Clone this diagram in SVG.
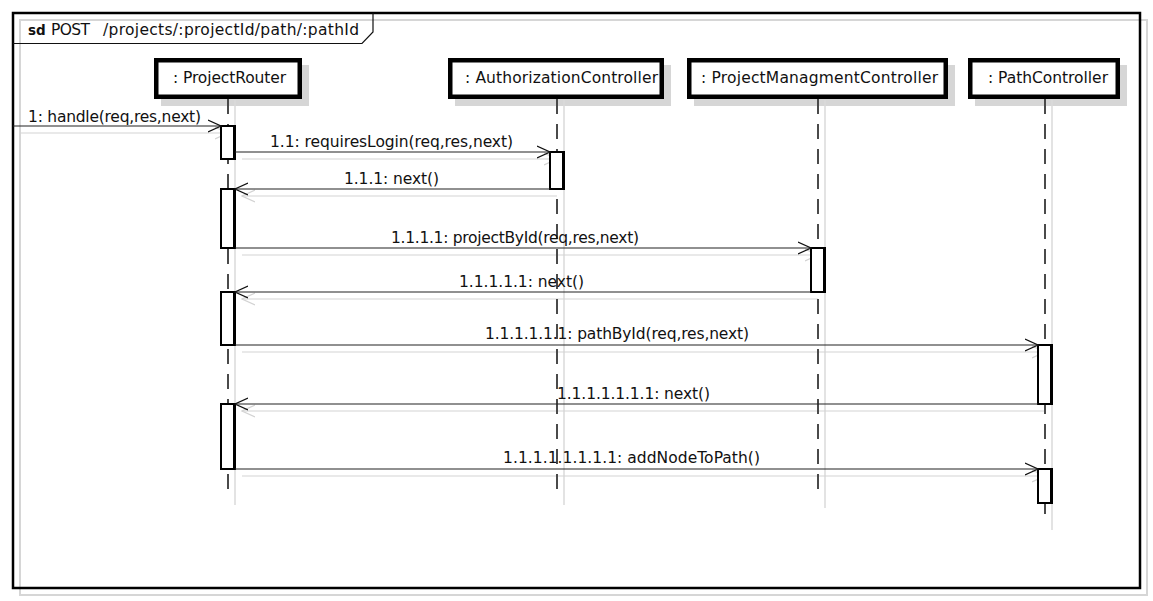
<svg xmlns="http://www.w3.org/2000/svg" width="1153" height="601" viewBox="0 0 1153 601">
<defs>
<style>
.t{font-family:"DejaVu Sans","Liberation Sans",sans-serif;font-size:15.5px;fill:#111}
.b{font-weight:bold}
.sh{fill:#d6d6d6;stroke:none}
.head{fill:#fff;stroke:#000;stroke-width:4.5}
.life{stroke:#4a4a4a;stroke-width:2;stroke-dasharray:15 10;fill:none}
.lifesh{stroke:#dadada;stroke-width:1.5;fill:none}
.act{fill:#fff;stroke:#000;stroke-width:2}
.actr{stroke:#000;stroke-width:2}
.msg{stroke:#222;stroke-width:1.2;fill:none;marker-end:url(#ah)}
.msgsh{stroke:#d3d3d3;stroke-width:1.2;fill:none;marker-end:url(#ahg)}
</style>
<marker id="ah" viewBox="0 0 14 14" refX="13" refY="7" markerWidth="14" markerHeight="14" markerUnits="userSpaceOnUse" orient="auto"><path d="M0,1 L13,7 L0,13" fill="none" stroke="#111" stroke-width="1.2"/></marker>
<marker id="ahg" viewBox="0 0 14 14" refX="13" refY="7" markerWidth="14" markerHeight="14" markerUnits="userSpaceOnUse" orient="auto"><path d="M0,1 L13,7 L0,13" fill="none" stroke="#d3d3d3" stroke-width="1.2"/></marker>
</defs>
<rect x="0" y="0" width="1153" height="601" fill="#fff"/>
<g id="frame">
<rect x="20" y="20" width="1127" height="575" fill="none" stroke="#d6d6d6" stroke-width="2"/>
<rect x="13" y="13" width="1127" height="575" fill="none" stroke="#000" stroke-width="2.5"/>
<path d="M13,43.5 H362 L373,32 V13" fill="none" stroke="#111" stroke-width="1.2"/>
<text class="t" y="35"><tspan class="b" x="28" style="font-size:13.5px">sd</tspan><tspan x="51" textLength="39">POST</tspan><tspan x="103" textLength="256">/projects/:projectId/path/:pathId</tspan></text>
</g>
<g id="shadows">
<rect class="sh" x="161" y="65" width="148" height="41"/>
<rect class="sh" x="455" y="65" width="216" height="41"/>
<rect class="sh" x="694" y="65" width="261" height="41"/>
<rect class="sh" x="975" y="65" width="152" height="41"/>
<line class="lifesh" x1="235" y1="100" x2="235" y2="505"/>
<line class="lifesh" x1="564" y1="100" x2="564" y2="505"/>
<line class="lifesh" x1="825" y1="100" x2="825" y2="508"/>
<line class="lifesh" x1="1052" y1="100" x2="1052" y2="530"/>
</g>
<g id="connector-shadows" transform="translate(7,7)">
<line class="msgsh" x1="13" y1="126" x2="221" y2="126"/>
<line class="msgsh" x1="235" y1="152" x2="550" y2="152"/>
<line class="msgsh" x1="550" y1="189" x2="235" y2="189"/>
<line class="msgsh" x1="235" y1="248" x2="811" y2="248"/>
<line class="msgsh" x1="811" y1="292" x2="235" y2="292"/>
<line class="msgsh" x1="235" y1="345" x2="1038" y2="345"/>
<line class="msgsh" x1="1038" y1="404" x2="235" y2="404"/>
<line class="msgsh" x1="235" y1="469" x2="1038" y2="469"/>
</g>
<g id="ProjectRouter">
<rect class="head" x="156.25" y="60.25" width="143.5" height="36.5"/>
<text class="t" x="173" y="83" textLength="113">: ProjectRouter</text>
<line class="life" x1="228" y1="99" x2="228" y2="499"/>
<rect class="act" x="221" y="126" width="14" height="33"/><line class="actr" x1="234" y1="126" x2="234" y2="159"/>
<rect class="act" x="221" y="189" width="14" height="59"/><line class="actr" x1="234" y1="189" x2="234" y2="248"/>
<rect class="act" x="221" y="292" width="14" height="53"/><line class="actr" x1="234" y1="292" x2="234" y2="345"/>
<rect class="act" x="221" y="404" width="14" height="65"/><line class="actr" x1="234" y1="404" x2="234" y2="469"/>
</g>
<g id="AuthorizationController">
<rect class="head" x="450.25" y="60.25" width="211.5" height="36.5"/>
<text class="t" x="465" y="83" textLength="193">: AuthorizationController</text>
<line class="life" x1="557" y1="99" x2="557" y2="499"/>
<rect class="act" x="550" y="152" width="14" height="37"/><line class="actr" x1="563" y1="152" x2="563" y2="189"/>
</g>
<g id="ProjectManagmentController">
<rect class="head" x="689.25" y="60.25" width="256.5" height="36.5"/>
<text class="t" x="701" y="83" textLength="237">: ProjectManagmentController</text>
<line class="life" x1="818" y1="99" x2="818" y2="499"/>
<rect class="act" x="811" y="248" width="14" height="44"/><line class="actr" x1="824" y1="248" x2="824" y2="292"/>
</g>
<g id="PathController">
<rect class="head" x="970.25" y="60.25" width="147.5" height="36.5"/>
<text class="t" x="988" y="83" textLength="120">: PathController</text>
<line class="life" x1="1045" y1="99" x2="1045" y2="524"/>
<rect class="act" x="1038" y="345" width="14" height="59"/><line class="actr" x1="1051" y1="345" x2="1051" y2="404"/>
<rect class="act" x="1038" y="469" width="14" height="34"/><line class="actr" x1="1051" y1="469" x2="1051" y2="503"/>
</g>
<g id="connectors">
<line class="msg" x1="13" y1="126" x2="221" y2="126"/>
<line class="msg" x1="235" y1="152" x2="550" y2="152"/>
<line class="msg" x1="550" y1="189" x2="235" y2="189"/>
<line class="msg" x1="235" y1="248" x2="811" y2="248"/>
<line class="msg" x1="811" y1="292" x2="235" y2="292"/>
<line class="msg" x1="235" y1="345" x2="1038" y2="345"/>
<line class="msg" x1="1038" y1="404" x2="235" y2="404"/>
<line class="msg" x1="235" y1="469" x2="1038" y2="469"/>
<text class="t" x="28" y="122" textLength="173">1: handle(req,res,next)</text>
<text class="t" x="270" y="147" textLength="243">1.1: requiresLogin(req,res,next)</text>
<text class="t" x="344" y="184" textLength="95">1.1.1: next()</text>
<text class="t" x="391" y="243" textLength="248">1.1.1.1: projectById(req,res,next)</text>
<text class="t" x="459" y="287" textLength="125">1.1.1.1.1: next()</text>
<text class="t" x="485" y="339" textLength="264">1.1.1.1.1.1: pathById(req,res,next)</text>
<text class="t" x="557" y="399" textLength="153">1.1.1.1.1.1.1: next()</text>
<text class="t" x="503" y="463" textLength="257">1.1.1.1.1.1.1.1: addNodeToPath()</text>
</g>
</svg>
